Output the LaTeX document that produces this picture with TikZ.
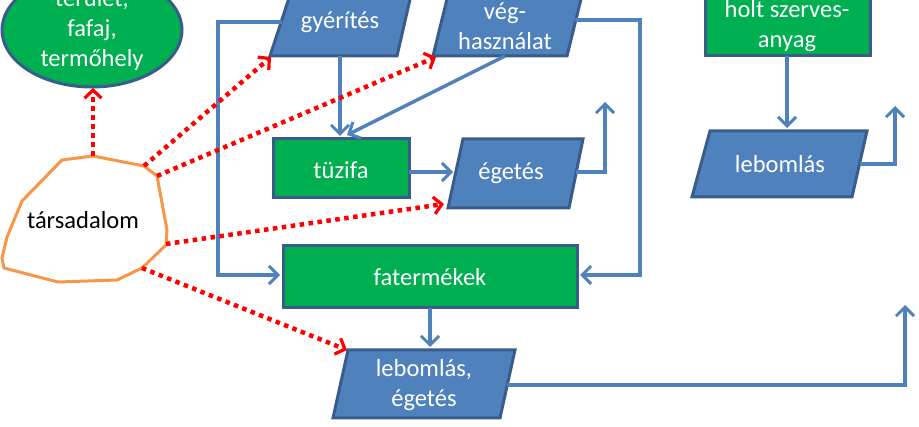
\documentclass[tikz,border=0pt]{standalone}
\usepackage{fontspec}
\setmainfont{Carlito}
\usetikzlibrary{arrows.meta,shapes.geometric}
\definecolor{bfill}{HTML}{4F81BD}
\definecolor{bdraw}{HTML}{385D8A}
\definecolor{gfill}{HTML}{00B050}
\definecolor{orng}{HTML}{F79646}
\tikzset{
  x=1pt,y=-1pt,
  txt/.style={font=\fontsize{24.5}{30}\selectfont,text=white,align=center},
  flow/.style={draw=bfill,line width=3.5pt,-{Straight Barb[length=9pt,width=18pt,line width=3pt]}},
  red/.style={draw=red,line width=4.5pt,dash pattern=on 4.5pt off 4.5pt,-{Straight Barb[length=8pt,width=17pt,line width=3.2pt]}},
  shp/.style={fill=bfill,draw=bdraw,line width=3pt},
  gshp/.style={fill=gfill,draw=bdraw,line width=3pt},
}
\begin{document}
\begin{tikzpicture}
\useasboundingbox (0,0) rectangle (919,427);
\clip (0,0) rectangle (919,427);
% ellipse
\draw[gshp] (92,30) ellipse [x radius=90, y radius=57];
\node[txt] (terulet) at (92,30) {terület,\\fafaj,\\termőhely};
% parallelograms
\draw[shp] (290,-5) -- (411,-5) -- (397,56) -- (270,56) -- cycle;
\node[txt] (gyer) at (340,22) {gyérítés};
\draw[shp] (448,-5) -- (582,-5) -- (567,56) -- (433,56) -- cycle;
\node[txt] (veg) at (505,26) {vég-\\használat};
\draw[shp] (463,139) -- (583,139) -- (569,208) -- (448,208) -- cycle;
\node[txt] (eget) at (511,173) {égetés};
\draw[shp] (348,350) -- (515,350) -- (500,418) -- (333,418) -- cycle;
\node[txt] (lebeg) at (424,385) {lebomlás,\\égetés};
\draw[shp] (710,131) -- (867,131) -- (852,197) -- (692,197) -- cycle;
\node[txt] (leb2) at (780,164) {lebomlás};
% rects
\draw[gshp] (273,139) rectangle (409,198);
\node[txt] (tuz) at (341,170) {tüzifa};
\draw[gshp] (283,246) rectangle (577,308);
\node[txt] (fat) at (430,277) {fatermékek};
\draw[gshp] (705,-5) rectangle (870,56);
\node[txt] (holt) at (787,26) {holt szerves-\\anyag};
% society
\draw[orng,line width=3pt,fill=white] (62,160) -- (93,156) -- (144,166) -- (157,176) -- (167,230) -- (166,245) -- (142,268) -- (117,280) -- (58,282) -- (4,268) -- (2,258) -- (7,237) -- (22,201) -- cycle;
\node[font=\fontsize{24.5}{30}\selectfont] (tars) at (83,220) {társadalom};
% blue flows
\draw[flow] (340,56) -- (340,136);
\draw[flow] (505,56) -- (347,135);
\draw[flow] (409,172) -- (453,172);
\draw[flow] (576,172) -- (605,172) -- (605,102);
\draw[flow] (282,22) -- (218,22) -- (218,275) -- (280,275);
\draw[flow] (575,20) -- (640,20) -- (640,275) -- (580,275);
\draw[flow] (430,308) -- (430,347);
\draw[flow] (507,385) -- (905,385) -- (905,305);
\draw[flow] (787,56) -- (787,128);
\draw[flow] (860,164) -- (895,164) -- (895,106);
% red dotted
\draw[red] (93,156) -- (93,88);
\draw[red] (144,166) -- (271,57);
\draw[red] (157,176) -- (436,57);
\draw[red] (166,244) -- (444,204);
\draw[red] (142,268) -- (347,350);
\end{tikzpicture}
\end{document}
